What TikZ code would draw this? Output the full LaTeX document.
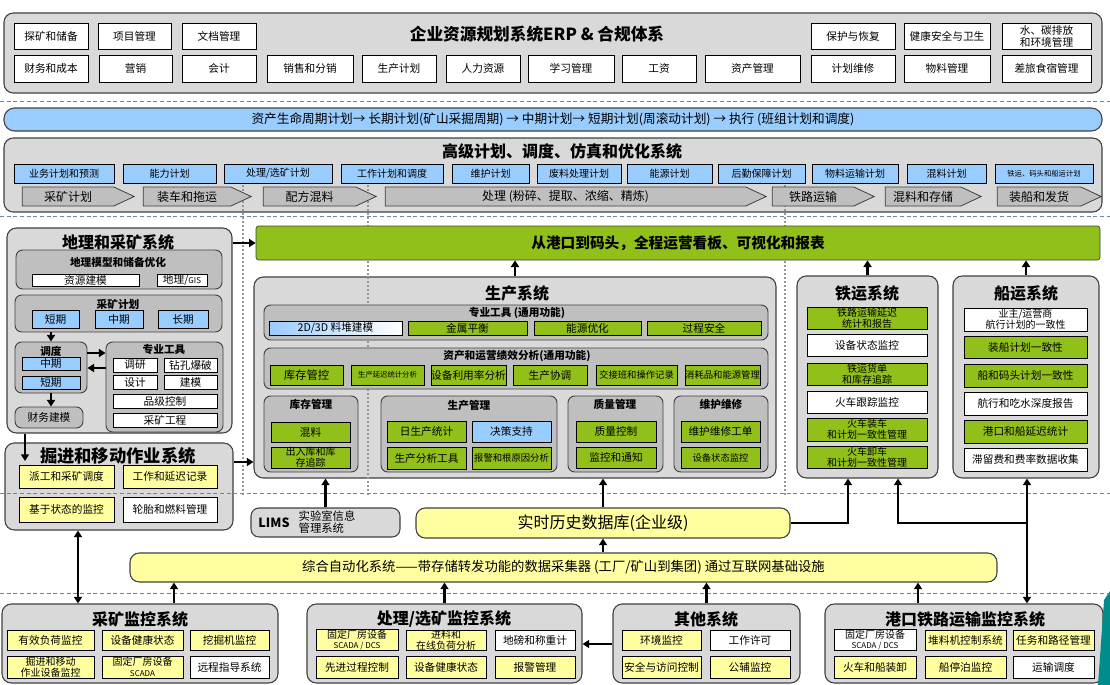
\documentclass[tikz,border=0pt]{standalone}
\usepackage{fontspec}
\setmainfont{Noto Sans CJK SC}
\usetikzlibrary{shapes.symbols,arrows.meta}
\definecolor{cpanel}{RGB}{217,217,217}
\definecolor{csub}{RGB}{191,191,191}
\definecolor{cdark}{RGB}{64,64,64}
\definecolor{cblue}{RGB}{153,204,255}
\definecolor{cgreen}{RGB}{146,192,26}
\definecolor{cyellow}{RGB}{255,255,160}
\definecolor{cdash}{RGB}{110,130,170}
\definecolor{cdot}{RGB}{150,150,150}
\definecolor{cteal}{RGB}{0,140,140}
\newcommand\bx[7]{\node[#2,minimum width={(#5-#3)*0.75pt},minimum height={(#6-#4)*0.75pt}] (#1) at ({(#3+#5)/2},{(#4+#6)/2}) {#7};}
\tikzset{
 base/.style={draw=black,line width=0.5pt,inner sep=0pt,align=center,font=\fontsize{8}{9}\selectfont},
 wbox/.style={base,fill=white},
 bbox/.style={base,fill=cblue},
 gbox/.style={base,fill=cgreen},
 ybox/.style={base,fill=cyellow},
 panel/.style={draw=cdark,line width=0.8pt,fill=cpanel,rounded corners=7pt,inner sep=0pt,align=center},
 subp/.style={draw=cdark,line width=0.7pt,fill=csub,rounded corners=5pt,inner sep=0pt,align=center,font=\fontsize{8}{9}\selectfont},
 ttl/.style={font=\fontsize{12}{14}\selectfont\bfseries,inner sep=0pt},
 sttl/.style={font=\fontsize{8}{9}\selectfont\bfseries,inner sep=0pt},
 chev/.style={signal,signal to=east,signal pointer angle=50,draw=cdark,line width=0.6pt,fill=csub,inner sep=0pt,font=\fontsize{9}{10}\selectfont},
 arr/.style={line width=1.7pt,-{Triangle[length=5pt,width=6pt]}},
 darr/.style={line width=1.7pt,{Triangle[length=5pt,width=6pt]}-{Triangle[length=5pt,width=6pt]}},
 hdash/.style={cdash,line width=0.6pt,dash pattern=on 3pt off 2pt},
 vdot/.style={cdot,line width=2pt,dash pattern=on 1.5pt off 1.5pt},
 two/.style={font=\fontsize{7.5}{8}\selectfont},
}
\begin{document}
\begin{tikzpicture}[x=0.75pt,y=-0.75pt]
\useasboundingbox (0,0) rectangle (1110,685);
% ---------- big panels ----------
\bx{erp}{panel}{4}{13}{1102}{93}{}
\bx{plan}{panel,fill=cblue,rounded corners=8pt,font=\fontsize{9.5}{11}\selectfont}{4}{108}{1102}{131}{资产生命周期计划→ 长期计划(矿山采掘周期) → 中期计划→ 短期计划(周滚动计划) → 执行 (班组计划和调度)}
\bx{adv}{panel}{4}{138}{1102}{212}{}
\bx{geo}{panel}{7}{228}{232}{433}{}
\bx{dig}{panel}{5}{443}{233}{530}{}
\bx{prod}{panel}{254}{277}{776}{478}{}
\bx{rail}{panel}{797}{276}{938}{478}{}
\bx{ship}{panel}{953}{276}{1099}{478}{}
\bx{minemon}{panel}{2}{604}{278}{683}{}
\bx{procmon}{panel}{307}{604}{582}{683}{}
\bx{othmon}{panel}{613}{604}{800}{683}{}
\bx{portmon}{panel}{825}{604}{1103}{683}{}
% ---------- dotted verticals ----------
\draw[vdot] (243,185) -- (243,496);
\draw[vdot] (368,185) -- (368,496);
\draw[vdot] (785,185) -- (785,496);
% ---------- ERP ----------
\node[ttl,font=\fontsize{12.5}{14}\selectfont\bfseries] (erpT) at (537,34) {企业资源规划系统ERP \& 合规体系};
\bx{e1}{wbox}{14}{23}{88}{49}{探矿和储备}
\bx{e2}{wbox}{98}{23}{171}{49}{项目管理}
\bx{e3}{wbox}{182}{23}{256}{49}{文档管理}
\bx{e4}{wbox}{811}{23}{895}{49}{保护与恢复}
\bx{e5}{wbox}{904}{23}{990}{49}{健康安全与卫生}
\bx{e6}{wbox}{1002}{23}{1091}{49}{水、碳排放\\和环境管理}
\bx{e7}{wbox}{14}{55}{88}{82}{财务和成本}
\bx{e8}{wbox}{99}{55}{172}{82}{营销}
\bx{e9}{wbox}{182}{55}{256}{82}{会计}
\bx{e10}{wbox}{267}{55}{353}{82}{销售和分销}
\bx{e11}{wbox}{362}{55}{436}{82}{生产计划}
\bx{e12}{wbox}{446}{55}{520}{82}{人力资源}
\bx{e13}{wbox}{528}{55}{614}{82}{学习管理}
\bx{e14}{wbox}{622}{55}{696}{82}{工资}
\bx{e15}{wbox}{705}{55}{800}{82}{资产管理}
\bx{e16}{wbox}{811}{55}{895}{82}{计划维修}
\bx{e17}{wbox}{904}{55}{990}{82}{物料管理}
\bx{e18}{wbox}{1002}{55}{1091}{82}{差旅食宿管理}
% ---------- advanced planning ----------
\node[ttl] (advT) at (562,151) {高级计划、调度、仿真和优化系统};
\tikzset{ab/.style={bbox,font=\fontsize{7.5}{8}\selectfont}}
\bx{a1}{ab}{14}{164}{114}{183}{业务计划和预测}
\bx{a2}{ab}{123}{164}{216}{183}{能力计划}
\bx{a3}{ab}{224}{164}{332}{183}{处理/选矿计划}
\bx{a4}{ab}{341}{164}{443}{183}{工作计划和调度}
\bx{a5}{ab}{452}{164}{529}{183}{维护计划}
\bx{a6}{ab}{537}{164}{621}{183}{废料处理计划}
\bx{a7}{ab}{627}{164}{712}{183}{能源计划}
\bx{a8}{ab}{718}{164}{805}{183}{后勤保障计划}
\bx{a9}{ab}{812}{164}{898}{183}{物料运输计划}
\bx{a10}{ab}{907}{164}{986}{183}{混料计划}
\bx{a11}{ab,font=\fontsize{5.5}{6}\selectfont}{995}{164}{1093}{183}{铁运、码头和船运计划}
\bx{c1}{chev}{12}{187}{124}{206}{采矿计划}
\bx{c2}{chev}{133}{187}{241}{206}{装车和拖运}
\bx{c3}{chev}{253}{187}{366}{206}{配方混料}
\bx{c4}{chev}{375}{187}{756}{206}{处理 (粉碎、提取、浓缩、精炼)}
\bx{c5}{chev}{762}{187}{864}{206}{铁路运输}
\bx{c6}{chev}{875}{187}{971}{206}{混料和存储}
\bx{c7}{chev}{987}{187}{1091}{206}{装船和发货}
% ---------- geo & mining ----------
\node[ttl] (geoT) at (118,242) {地理和采矿系统};
\bx{geoS}{subp}{16}{250}{222}{289}{}
\node[sttl] (geoST) at (118,262) {地理模型和储备优化};
\bx{g1}{wbox}{32}{274}{139}{286}{资源建模}
\bx{g2}{wbox}{157}{274}{207}{286}{地理/{\fontsize{6}{6}\selectfont GIS}}
\bx{mpS}{subp}{15}{295}{222}{332}{}
\node[sttl] (mpST) at (118,304) {采矿计划};
\bx{mp1}{bbox}{32}{310}{79}{328}{短期}
\bx{mp2}{bbox}{95}{310}{143}{328}{中期}
\bx{mp3}{bbox}{158}{310}{208}{328}{长期}
\bx{disp}{subp}{15}{342}{87}{393}{}
\node[sttl] (dispT) at (51,351) {调度};
\bx{d1}{bbox}{22}{357}{80}{370}{中期}
\bx{d2}{bbox}{22}{376}{80}{389}{短期}
\bx{tools}{subp}{106}{342}{223}{432}{}
\node[sttl] (toolsT) at (164,349) {专业工具};
\bx{t1}{wbox}{113}{358}{157}{372}{调研}
\bx{t2}{wbox}{164}{358}{217}{372}{钻孔爆破}
\bx{t3}{wbox}{113}{375}{157}{389}{设计}
\bx{t4}{wbox}{164}{375}{217}{389}{建模}
\bx{t5}{wbox}{113}{394}{217}{408}{品级控制}
\bx{t6}{wbox}{113}{413}{217}{427}{采矿工程}
\bx{fin}{subp}{15}{407}{83}{428}{财务建模}
% ---------- digging ----------
\node[ttl,font=\fontsize{13}{15}\selectfont\bfseries] (digT) at (118,456) {掘进和移动作业系统};
\bx{dg1}{ybox}{19}{465}{114}{488}{派工和采矿调度}
\bx{dg2}{ybox}{123}{465}{217}{488}{工作和延迟记录}
\bx{dg3}{ybox}{19}{497}{114}{522}{基于状态的监控}
\bx{dg4}{wbox}{123}{497}{217}{522}{轮胎和燃料管理}
% ---------- board ----------
\bx{board}{base,fill=cgreen,draw=cdark,rounded corners=2pt,font=\fontsize{11}{13}\selectfont\bfseries}{256}{226}{1100}{260}{从港口到码头，全程运营看板、可视化和报表}
% ---------- production ----------
\node[ttl] (prodT) at (517,293) {生产系统};
\bx{pt}{subp}{264}{305}{768}{340}{}
\node[sttl] (ptT) at (517,313) {专业工具 (通用功能)};
\bx{p1}{base,left color=cblue,right color=white}{269}{321}{402}{335}{2D/3D 料堆建模}
\bx{p2}{gbox}{408}{321}{527}{335}{金属平衡}
\bx{p3}{gbox}{534}{321}{641}{335}{能源优化}
\bx{p4}{gbox}{647}{321}{761}{335}{过程安全}
\bx{pa}{subp}{264}{348}{768}{389}{}
\node[sttl] (paT) at (517,356) {资产和运营绩效分析(通用功能)};
\bx{q1}{gbox,font=\fontsize{8.5}{9}\selectfont}{270}{365}{343}{385}{库存管控}
\bx{q2}{gbox,font=\fontsize{5.5}{6}\selectfont}{351}{365}{424}{385}{生产延迟统计分析}
\bx{q3}{gbox}{432}{365}{505}{385}{设备利用率分析}
\bx{q4}{gbox}{513}{365}{587}{385}{生产协调}
\bx{q5}{gbox,font=\fontsize{7}{8}\selectfont}{596}{365}{677}{385}{交接班和操作记录}
\bx{q6}{gbox,font=\fontsize{7}{8}\selectfont}{685}{365}{760}{385}{消耗品和能源管理}
\bx{inv}{subp}{264}{396}{358}{472}{}
\node[sttl] (invT) at (311,404) {库存管理};
\bx{r1}{gbox}{271}{422}{350}{442}{混料}
\bx{r2}{gbox,two}{271}{447}{350}{468}{出入库和库\\存追踪}
\bx{pm}{subp}{381}{396}{557}{472}{}
\node[sttl] (pmT) at (469,405) {生产管理};
\bx{s1}{gbox}{387}{421}{466}{442}{日生产统计}
\bx{s2}{bbox}{472}{421}{551}{442}{决策支持}
\bx{s3}{gbox}{387}{447}{466}{469}{生产分析工具}
\bx{s4}{gbox,font=\fontsize{7}{8}\selectfont}{472}{447}{551}{469}{报警和根原因分析}
\bx{qm}{subp}{568}{396}{663}{472}{}
\node[sttl] (qmT) at (615,404) {质量管理};
\bx{u1}{gbox}{576}{421}{656}{442}{质量控制}
\bx{u2}{gbox}{576}{447}{656}{468}{监控和通知}
\bx{mm}{subp}{674}{396}{768}{472}{}
\node[sttl] (mmT) at (721,404) {维护维修};
\bx{u3}{gbox}{681}{421}{760}{442}{维护维修工单}
\bx{u4}{gbox,font=\fontsize{7}{8}\selectfont}{681}{447}{760}{468}{设备状态监控}
% ---------- rail ----------
\node[ttl] (railT) at (867,293) {铁运系统};
\bx{v1}{gbox,two}{807}{307}{927}{329}{铁路运输延迟\\统计和报告}
\bx{v2}{wbox}{807}{334}{927}{356}{设备状态监控}
\bx{v3}{gbox,two}{807}{363}{927}{385}{铁运货单\\和库存追踪}
\bx{v4}{wbox}{807}{391}{927}{413}{火车跟踪监控}
\bx{v5}{gbox,two}{807}{418}{927}{441}{火车装车\\和计划一致性管理}
\bx{v6}{gbox,two}{807}{446}{927}{468}{火车卸车\\和计划一致性管理}
% ---------- ship ----------
\node[ttl] (shipT) at (1026,293) {船运系统};
\bx{w1}{wbox,two}{964}{308}{1087}{331}{业主/运营商\\航行计划的一致性}
\bx{w2}{gbox}{964}{336}{1087}{358}{装船计划一致性}
\bx{w3}{gbox}{964}{364}{1087}{387}{船和码头计划一致性}
\bx{w4}{wbox}{964}{392}{1087}{415}{航行和吃水深度报告}
\bx{w5}{gbox}{964}{420}{1087}{443}{港口和船延迟统计}
\bx{w6}{wbox}{964}{448}{1087}{471}{滞留费和费率数据收集}
% ---------- data layer ----------
\bx{lims}{panel,rounded corners=6pt}{251}{508}{400}{537}{}
\node[inner sep=0pt,font=\fontsize{9.5}{10}\selectfont\bfseries] (limsA) at (274,523) {LIMS};
\node[inner sep=0pt,align=left,font=\fontsize{8.5}{7.5}\selectfont] (limsB) at (327,522) {实验室信息\\管理系统};
\bx{rt}{panel,fill=cyellow,font=\fontsize{12}{14}\selectfont}{416}{508}{790}{538}{实时历史数据库(企业级)}
\bx{auto}{panel,fill=cyellow,font=\fontsize{10}{12}\selectfont}{130}{553}{997}{582}{综合自动化系统——带存储转发功能的数据采集器 (工厂/矿山到集团) 通过互联网基础设施}
% ---------- bottom monitors ----------
\node[ttl] (minemonT) at (140,619) {采矿监控系统};
\bx{m1}{ybox}{7}{630}{94}{650}{有效负荷监控}
\bx{m2}{ybox}{102}{630}{183}{650}{设备健康状态}
\bx{m3}{ybox}{190}{630}{269}{650}{挖掘机监控}
\bx{m4}{ybox,two}{7}{656}{94}{678}{掘进和移动\\作业设备监控}
\bx{m5}{ybox,two}{102}{656}{183}{678}{固定厂房设备\\{\fontsize{6}{6}\selectfont SCADA}}
\bx{m6}{wbox}{190}{656}{269}{678}{远程指导系统}
\node[ttl] (procmonT) at (444,619) {处理/选矿监控系统};
\bx{n1}{ybox,two}{316}{630}{398}{650}{固定厂房设备\\{\fontsize{6}{6}\selectfont SCADA / DCS}}
\bx{n2}{ybox,two}{406}{630}{486}{650}{进料和\\在线负荷分析}
\bx{n3}{wbox}{495}{630}{575}{650}{地磅和称重计}
\bx{n4}{ybox}{316}{656}{398}{678}{先进过程控制}
\bx{n5}{ybox}{406}{656}{486}{678}{设备健康状态}
\bx{n6}{ybox}{495}{656}{575}{678}{报警管理}
\node[ttl] (othmonT) at (706,619) {其他系统};
\bx{o1}{ybox}{622}{630}{701}{650}{环境监控}
\bx{o2}{wbox}{710}{630}{790}{650}{工作许可}
\bx{o3}{ybox}{622}{656}{701}{678}{安全与访问控制}
\bx{o4}{ybox}{710}{656}{790}{678}{公辅监控}
\node[ttl] (portmonT) at (965,619) {港口铁路运输监控系统};
\bx{k1}{wbox,two}{834}{630}{916}{650}{固定厂房设备\\{\fontsize{6}{6}\selectfont SCADA / DCS}}
\bx{k2}{ybox}{925}{630}{1006}{650}{堆料机控制系统}
\bx{k3}{ybox}{1013}{630}{1094}{650}{任务和路径管理}
\bx{k4}{ybox}{834}{656}{916}{678}{火车和船装卸}
\bx{k5}{ybox}{925}{656}{1006}{678}{船停泊监控}
\bx{k6}{wbox}{1013}{656}{1094}{678}{运输调度}
\fill[cteal] (1104,600) -- (1110,591) -- (1110,685) -- (1098,685) -- cycle;
% ---------- dashed separators ----------
\draw[hdash] (0,101) -- (1110,101);
\draw[hdash] (0,216) -- (1110,216);
\draw[hdash] (0,493) -- (1110,493);
\draw[hdash] (0,593) -- (1110,593);
% ---------- connectors ----------
\coordinate (y462) at (0,462);
\coordinate (y353) at (0,353);
\coordinate (y368) at (0,368);
\coordinate (y644) at (0,644);
\coordinate (x25) at (25,461);
\coordinate (x78) at (78,0);
\coordinate (x174) at (174,0);
\coordinate (x918) at (918,0);
\coordinate (r1) at (848,523);
\coordinate (r2) at (898,523);
\coordinate (r3) at (1027,523);
\draw[arr] (geo.east |- board.west) -- (board.west);
\draw[arr] (dig.east |- y462) -- (prod.west |- y462);
\draw[arr] (prod.north) -- (prod.north |- board.south);
\draw[arr] (rail.north) -- (rail.north |- board.south);
\draw[arr] (ship.north) -- (ship.north |- board.south);
\draw[arr] (disp.north |- mpS.south) -- (disp.north);
\draw[arr] (disp.east |- y353) -- (tools.west |- y353);
\draw[arr] (tools.west |- y368) -- (disp.east |- y368);
\draw[arr] (disp.south) -- (disp.south |- fin.north);
\draw[arr] (x25 |- geo.south) -- (x25);
\draw[darr] (x78 |- dig.south) -- (x78 |- minemon.north);
\draw[arr] (lims.north) -- (lims.north |- prod.south);
\draw[arr] (rt.north) -- (rt.north |- prod.south);
\draw[arr] (rt.south |- auto.north) -- (rt.south);
\draw[arr] (rt.east) -- (r1) -- (r1 |- rail.south);
\draw[arr] (r3) -- (r2) -- (r2 |- rail.south);
\draw[darr] (r3 |- ship.south) -- (r3 |- portmon.north);
\draw[arr] (x174 |- minemon.north) -- (x174 |- auto.south);
\draw[arr] (procmon.north) -- (procmon.north |- auto.south);
\draw[arr] (othmon.north) -- (othmon.north |- auto.south);
\draw[arr] (x918 |- portmon.north) -- (x918 |- auto.south);
\draw[arr] (othmon.west |- y644) -- (procmon.east |- y644);
\end{tikzpicture}
\end{document}
